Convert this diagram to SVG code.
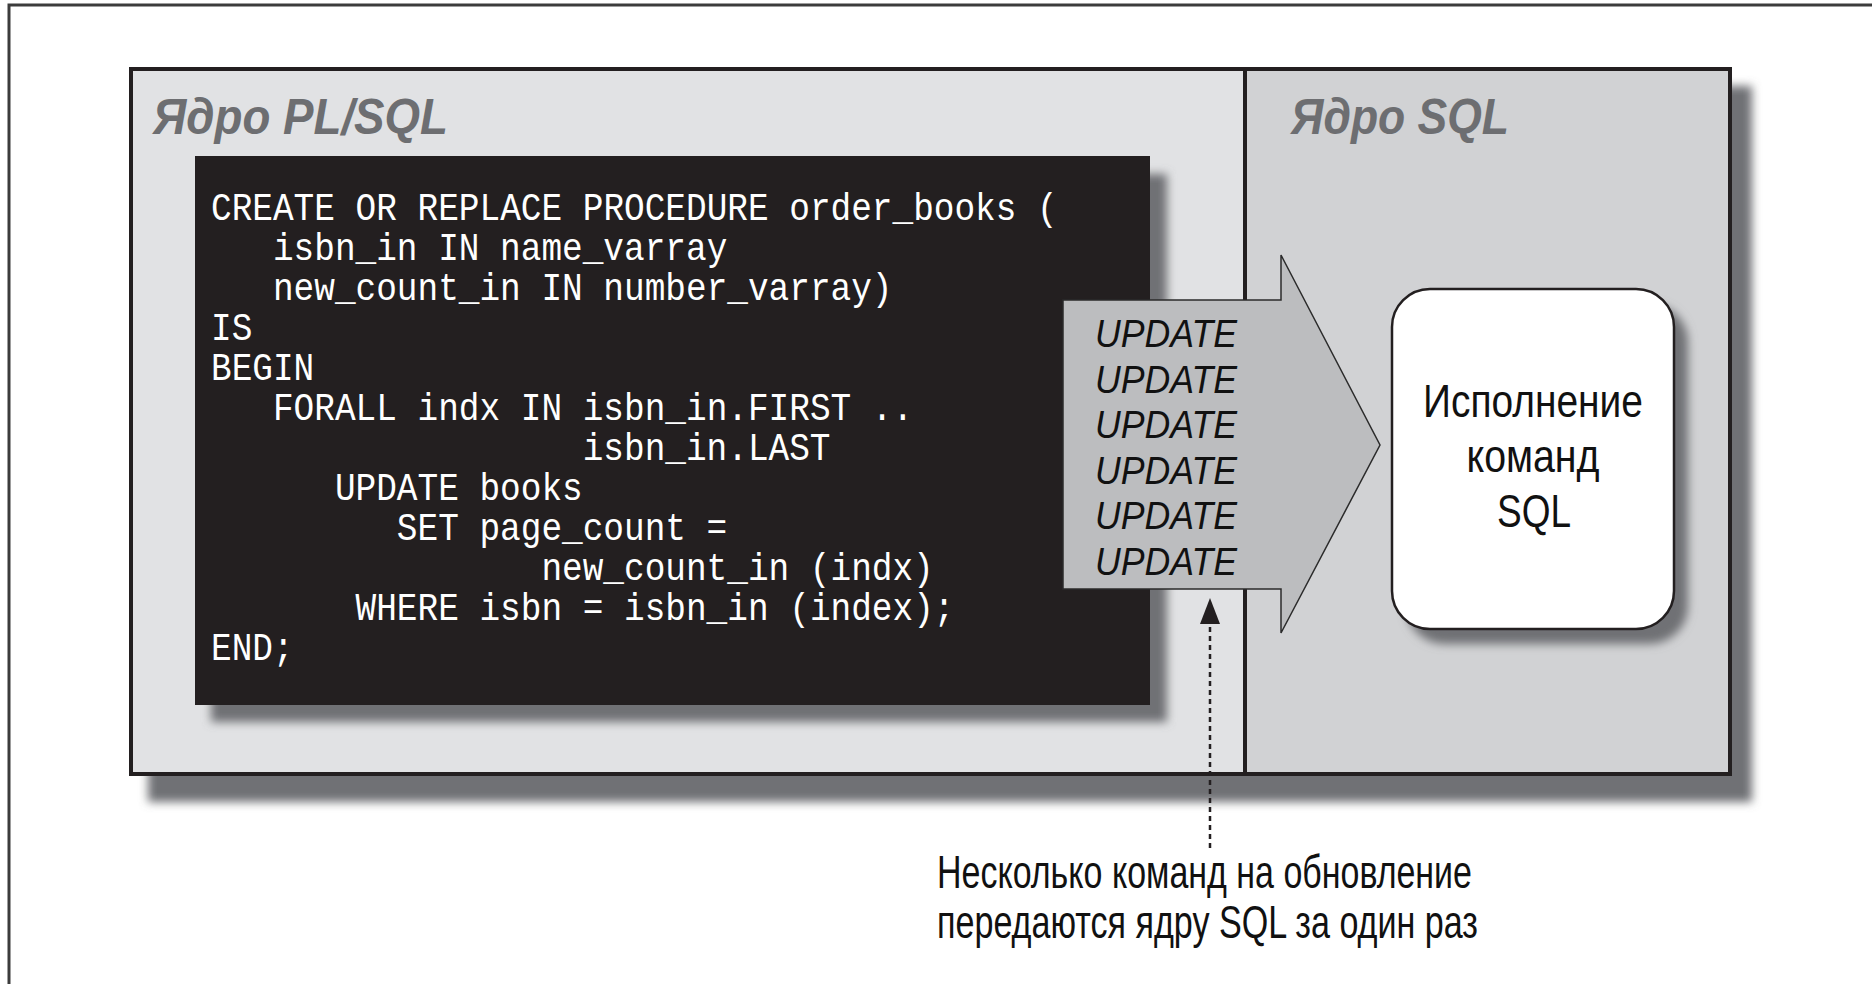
<svg xmlns="http://www.w3.org/2000/svg" width="1872" height="984" viewBox="0 0 1872 984">
<style>
.frame{fill:none;stroke:#3c3c3c;stroke-width:3}
.panel{stroke:#231f20;stroke-width:4}
.shadow{fill:#707174;filter:url(#blur)}
.title{font-family:"Liberation Sans Narrow","Liberation Sans",Arial,sans-serif;font-weight:bold;font-style:italic;font-size:50px;fill:#6d6e71}
.code{font-family:"Liberation Mono","DejaVu Sans Mono",monospace;font-size:38px;fill:#ffffff}
.upd{font-family:"Liberation Sans Narrow","Liberation Sans",Arial,sans-serif;font-style:italic;font-size:39px;fill:#111}
.lbl{font-family:"Liberation Sans Narrow","Liberation Sans",Arial,sans-serif;font-size:46px;fill:#111}
.dash{stroke:#231f20;stroke-width:2.5;stroke-dasharray:5 4;fill:none}
</style>
<defs>
<filter id="blur" x="-10%" y="-10%" width="120%" height="120%"><feGaussianBlur stdDeviation="5"/></filter>
</defs>
<rect x="0" y="0" width="1872" height="984" fill="#ffffff"/>
<rect class="frame" x="9" y="5" width="1900" height="1010"/>

<g id="engines">
<rect class="shadow" x="148" y="86" width="1604" height="716"/>
<rect class="panel" x="131" y="69" width="1114" height="705" fill="#e1e2e4"/>
<rect class="panel" x="1245" y="69" width="485" height="705" fill="#d1d2d4"/>
</g>

<g id="plsql-engine">
<text class="title" x="153" y="134" textLength="295" lengthAdjust="spacingAndGlyphs">Ядро PL/SQL</text>
</g>

<g id="sql-engine">
<text class="title" x="1291" y="134" textLength="218" lengthAdjust="spacingAndGlyphs">Ядро SQL</text>
</g>

<g id="code-block">
<rect class="shadow" x="211" y="174" width="956" height="548"/>
<rect x="195" y="156" width="955" height="549" fill="#231f20"/>
<g transform="translate(211,0) scale(0.9057,1)">
<text class="code" x="0" y="220">CREATE OR REPLACE PROCEDURE order_books (</text>
<text class="code" x="68.4" y="260">isbn_in IN name_varray</text>
<text class="code" x="68.4" y="300">new_count_in IN number_varray)</text>
<text class="code" x="0" y="340">IS</text>
<text class="code" x="0" y="380">BEGIN</text>
<text class="code" x="68.4" y="420">FORALL indx IN isbn_in.FIRST ..</text>
<text class="code" x="410.4" y="460">isbn_in.LAST</text>
<text class="code" x="136.8" y="500">UPDATE books</text>
<text class="code" x="205.2" y="540">SET page_count =</text>
<text class="code" x="364.8" y="580">new_count_in (indx)</text>
<text class="code" x="159.6" y="620">WHERE isbn = isbn_in (index);</text>
<text class="code" x="0" y="660">END;</text>
</g>
</g>

<g id="exec-box">
<rect class="shadow" x="1406" y="304" width="282" height="340" rx="38"/>
<rect x="1392" y="289" width="282" height="340" rx="38" fill="#ffffff" stroke="#231f20" stroke-width="2.5"/>
<text class="lbl" x="1533" y="417" text-anchor="middle" textLength="220" lengthAdjust="spacingAndGlyphs">Исполнение</text>
<text class="lbl" x="1533" y="472" text-anchor="middle" textLength="133" lengthAdjust="spacingAndGlyphs">команд</text>
<text class="lbl" x="1534" y="527" text-anchor="middle" textLength="74" lengthAdjust="spacingAndGlyphs">SQL</text>
</g>

<g id="connectors">
<g id="batch-arrow">
<polygon points="1063,300 1281,300 1281,255 1380,445 1281,633 1281,589 1063,589" fill="#bcbdbf" stroke="#2b2b2b" stroke-width="1.5" stroke-linejoin="miter"/>
<text class="upd" x="1095" y="347" textLength="142" lengthAdjust="spacingAndGlyphs">UPDATE</text>
<text class="upd" x="1095" y="393" textLength="142" lengthAdjust="spacingAndGlyphs">UPDATE</text>
<text class="upd" x="1095" y="438" textLength="142" lengthAdjust="spacingAndGlyphs">UPDATE</text>
<text class="upd" x="1095" y="484" textLength="142" lengthAdjust="spacingAndGlyphs">UPDATE</text>
<text class="upd" x="1095" y="529" textLength="142" lengthAdjust="spacingAndGlyphs">UPDATE</text>
<text class="upd" x="1095" y="575" textLength="142" lengthAdjust="spacingAndGlyphs">UPDATE</text>
</g>
<line class="dash" x1="1210" y1="848" x2="1210" y2="622"/>
<polygon points="1210,598 1200,624 1220,624" fill="#231f20"/>
</g>

<g id="caption">
<text class="lbl" x="937" y="888" textLength="535" lengthAdjust="spacingAndGlyphs">Несколько команд на обновление</text>
<text class="lbl" x="937" y="938" textLength="541" lengthAdjust="spacingAndGlyphs">передаются ядру SQL за один раз</text>
</g>
</svg>
